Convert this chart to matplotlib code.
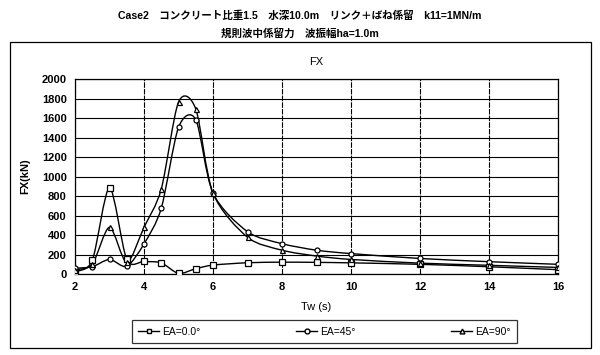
import numpy as np
import matplotlib
matplotlib.use('Agg')
import matplotlib.pyplot as plt
from matplotlib.path import Path
from matplotlib.patches import PathPatch, Rectangle

plt.rcParams['font.family'] = ['Liberation Sans', 'Noto Sans CJK JP', 'DejaVu Sans']

# wave period (s)
tw = [2, 2.5, 3, 3.5, 4, 4.5, 5, 5.5, 6, 7, 8, 9, 10, 12, 14, 16]
# FX (kN) per wave angle
fx_ea0 = [25, 140, 885, 150, 130, 115, 7, 55, 92, 116, 122, 120, 115, 100, 75, 45]
fx_ea45 = [60, 75, 150, 80, 310, 675, 1505, 1585, 830, 435, 312, 245, 210, 160, 127, 100]
fx_ea90 = [45, 100, 480, 120, 480, 872, 1765, 1695, 830, 378, 245, 185, 150, 112, 90, 68]

labels = ['EA=0.0°', 'EA=45°', 'EA=90°']
markers = ['s', 'o', '^']

title1 = 'Case2　コンクリート比重1.5　水深10.0m　リンク＋ばね係留　k11=1MN/m'
title2 = '規則波中係留力　波振幅ha=1.0m'


def smooth_path(x, y, k=0.14):
    # smoothed line like the spreadsheet one: cubic bezier through the points
    p = np.column_stack([x, y]).astype(float)
    n = len(p)
    verts = [p[0]]
    codes = [Path.MOVETO]
    for i in range(n - 1):
        p0 = p[i - 1] if i > 0 else p[i]
        p3 = p[i + 2] if i + 2 < n else p[i + 1]
        c1 = p[i] + (p[i + 1] - p0) * k
        c2 = p[i + 1] - (p3 - p[i]) * k
        verts += [c1, c2, p[i + 1]]
        codes += [Path.CURVE4] * 3
    return Path(verts, codes)


def main():
    fig = plt.figure(figsize=(6, 3.55), dpi=100)
    ax = fig.add_axes([0.125, 0.228, 0.805, 0.549])

    fig.text(0.5, 1 - 16 / 355, title1, ha='center', va='center', fontsize=7.6, fontweight='bold')
    fig.text(0.5, 1 - 33 / 355, title2, ha='center', va='center', fontsize=7.6, fontweight='bold')
    fig.patches.append(Rectangle((10 / 600, 1 - 348 / 355), 581 / 600, 306 / 355,
                                 transform=fig.transFigure, fill=False, ec='black', lw=0.9))

    for ys, m, lab in zip([fx_ea0, fx_ea45, fx_ea90], markers, labels):
        ax.add_patch(PathPatch(smooth_path(tw, ys), fill=False, ec='black', lw=1.0, zorder=3))
        ax.plot(tw, ys, ls='none', marker=m, ms=4.2 if m == 's' else 3.6, mfc='white',
                mec='black', mew=0.9, zorder=4)
        ax.plot([], [], color='black', lw=1.0, marker=m, ms=3.5, mfc='white', mec='black', label=lab)

    ax.set_xlim(2, 16)
    ax.set_ylim(0, 2000)
    ax.set_xticks(range(2, 17, 2))
    ax.set_yticks(range(0, 2001, 200))
    ax.grid(axis='y', color='black', lw=0.8)
    ax.grid(axis='x', color='black', lw=0.8, ls=(0, (5, 1)))
    ax.set_axisbelow(True)
    ax.tick_params(length=0, labelsize=8, pad=6)
    for t in ax.get_xticklabels() + ax.get_yticklabels():
        t.set_fontweight('bold')
    for s in ax.spines.values():
        s.set_linewidth(0.9)

    ax.set_title('FX', fontsize=8, pad=10)
    ax.set_xlabel('Tw (s)', fontsize=8, labelpad=7)
    ax.set_ylabel('FX(kN)', fontsize=8, fontweight='bold', labelpad=8)

    leg = fig.legend(loc='lower left', bbox_to_anchor=(127 / 600, 1 - 348 / 355, 395 / 600, 30 / 355),
                     bbox_transform=fig.transFigure, mode='expand', ncol=3, fontsize=7.5,
                     frameon=True, fancybox=False, edgecolor='black', handlelength=2.0,
                     handletextpad=0.3, borderpad=0.6)
    leg.get_frame().set_linewidth(0.9)

    fig.savefig('out.png', dpi=100)


if __name__ == "__main__":
    main()
